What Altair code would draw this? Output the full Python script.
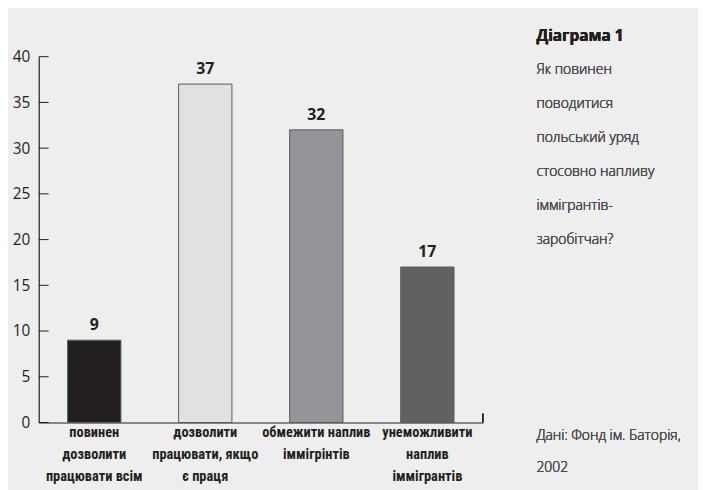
import altair as alt
import pandas as pd

categories = [
    "повинен|дозволити|працювати всім",
    "дозволити|працювати, якщо|є праця",
    "обмежити наплив|іммігрінтів",
    "унеможливити|наплив|іммігрантів",
]
values = [9, 37, 32, 17]
bar_colors = ["#231f20", "#e1e2e4", "#939598", "#616163"]
y_ticks = [0, 5, 10, 15, 20, 25, 30, 35, 40]
title_line = "Діаграма 1"
question_lines = ["Як повинен", "поводитися", "польський уряд",
                  "стосовно напливу", "іммігрантів-", "заробітчан?"]
source_lines = ["Дані: Фонд ім. Баторія,", "2002"]

df = pd.DataFrame({"cat": categories, "val": values})
ticks_df = pd.DataFrame({"t": y_ticks})

W, H = 448, 369
label_font = "Liberation Sans Narrow, Roboto Condensed, Open Sans, sans-serif"
text_font = "Open Sans, sans-serif"

x_enc = alt.X("cat:N", sort=categories,
              scale=alt.Scale(paddingInner=0.52, paddingOuter=0.26),
              axis=alt.Axis(title=None, labelExpr="split(datum.value, '|')",
                            labelAngle=0, labelFont=label_font, labelFontWeight="bold",
                            labelFontSize=14.5, labelLineHeight=22.5, labelColor="#231f20",
                            labelPadding=3, ticks=False, domainColor="#231f20",
                            domainWidth=1.2, labelLimit=200))
y_scale = alt.Scale(domain=[0, 40], nice=False)

bars = alt.Chart(df).mark_bar(stroke="#58595b", strokeWidth=1).encode(
    x=x_enc,
    y=alt.Y("val:Q", scale=y_scale,
            axis=alt.Axis(title=None, values=y_ticks, ticks=False, grid=False,
                          labelFont=text_font, labelFontSize=15.5, labelFontWeight="normal",
                          labelColor="#231f20",
                          labelPadding=9, domainColor="#231f20", domainWidth=1.2)),
    color=alt.Color("cat:N", sort=categories,
                    scale=alt.Scale(domain=categories, range=bar_colors), legend=None),
)

labels = alt.Chart(df).mark_text(dy=-7, baseline="bottom", font=text_font,
                                 fontWeight="bold", fontSize=16, color="#231f20").encode(
    x=alt.X("cat:N", sort=categories),
    y=alt.Y("val:Q", scale=y_scale),
    text="val:Q",
)

tick_marks = alt.Chart(ticks_df).mark_rule(color="#231f20", strokeWidth=1).encode(
    x=alt.value(0), x2=alt.value(10),
    y=alt.Y("t:Q", scale=y_scale),
)

end_tick = alt.Chart(df).mark_rule(color="#231f20", strokeWidth=1).encode(
    x=alt.value(W), y=alt.value(H), y2=alt.value(H - 9)
)

title_txt = alt.Chart(df).mark_text(text=title_line, align="left", baseline="middle",
                                    font=text_font, fontWeight="bold", fontSize=15.5,
                                    color="#231f20").encode(
    x=alt.value(502), y=alt.value(-21))

question_txt = alt.Chart(df).mark_text(text=question_lines, align="left", baseline="middle",
                                       font=text_font, fontSize=14, fontWeight=300,
                                       lineHeight=34.3, color="#4d4d4f").encode(
    x=alt.value(502), y=alt.value(13))

source_txt = alt.Chart(df).mark_text(text=source_lines, align="left", baseline="middle",
                                     font=text_font, fontSize=14, fontWeight=300,
                                     lineHeight=32, color="#4d4d4f").encode(
    x=alt.value(502), y=alt.value(383))

chart = alt.layer(bars, tick_marks, end_tick, labels, title_txt, question_txt, source_txt).properties(
    width=W, height=H,
    background="#eeeeee",
    padding={"left": 31, "top": 47, "right": 217, "bottom": 66},
    autosize=alt.AutoSizeParams(type="none"),
).configure_view(stroke=None)

chart.save("out.html", embed_options={"renderer": "svg", "actions": False})
